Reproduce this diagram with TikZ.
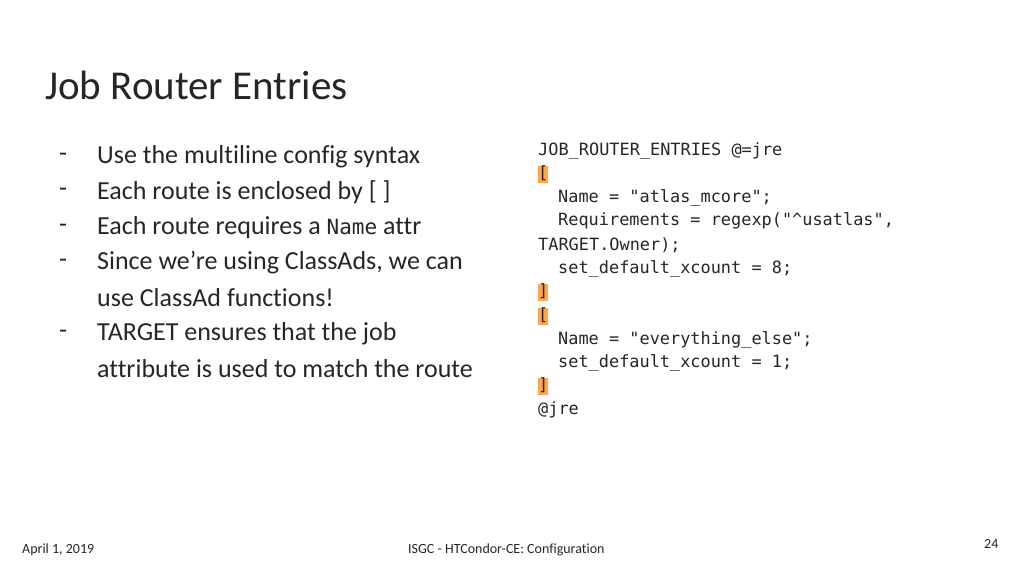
\documentclass[tikz,border=0pt]{standalone}
\usepackage{fontspec}
\setmainfont[Ligatures={NoCommon}]{Carlito}
\newfontfamily\codefont{DejaVu Sans Mono}
\begin{document}
\begin{tikzpicture}[x=1pt,y=-1pt,
  body/.style={anchor=west,inner sep=0,font=\fontsize{26}{30}\selectfont,text=black!85},
  code/.style={anchor=west,inner sep=0,font=\codefont\fontsize{16.9}{19}\selectfont,text=black!85},
  hl/.style={code,fill=orange!70,text height=13pt,text depth=4pt},
  foot/.style={anchor=west,inner sep=0,font=\fontsize{14}{16}\selectfont,text=black!85}]
\useasboundingbox (0,0) rectangle (1024,576);
\node[anchor=west,inner sep=0,font=\fontsize{41}{46}\selectfont,text=black!85] (title) at (45,85) {Job Router Entries};
\foreach \y/\n in {157/1,192/2,228/3,263/4,334/6}{\node[body] (d\n) at (59,\y) {-};}
\node[body] (b1) at (97,157) {Use the multiline config syntax};
\node[body] (b2) at (97,192) {Each route is enclosed by [ ]};
\node[body] (b3) at (97,228) {Each route requires a {\codefont\fontsize{21}{24}\selectfont Name} attr};
\node[body] (b4) at (97,263) {Since we’re using ClassAds, we can};
\node[body] (b5) at (97,298) {use ClassAd functions!};
\node[body] (b6) at (97,334) {TARGET ensures that the job};
\node[body] (b7) at (97,369) {attribute is used to match the route};
\node[code] (c1) at (538,151) {JOB\_ROUTER\_ENTRIES @=jre};
\node[hl] (c2) at (538,174) {[};
\node[code] (c3) at (558,198) {Name = "atlas\_mcore";};
\node[code] (c4) at (558,221) {Requirements = regexp("\textasciicircum usatlas",};
\node[code] (c5) at (538,245) {TARGET.Owner);};
\node[code] (c6) at (558,269) {set\_default\_xcount = 8;};
\node[hl] (c7) at (538,292) {]};
\node[hl] (c8) at (538,316) {[};
\node[code] (c9) at (558,340) {Name = "everything\_else";};
\node[code] (c10) at (558,363) {set\_default\_xcount = 1;};
\node[hl] (c11) at (538,386) {]};
\node[code] (c12) at (538,410) {@jre};
\node[foot] (f1) at (22,550) {April 1, 2019};
\node[foot] (f2) at (408,550) {ISGC - HTCondor-CE: Configuration};
\node[foot] (f3) at (984,544) {24};
\end{tikzpicture}
\end{document}
